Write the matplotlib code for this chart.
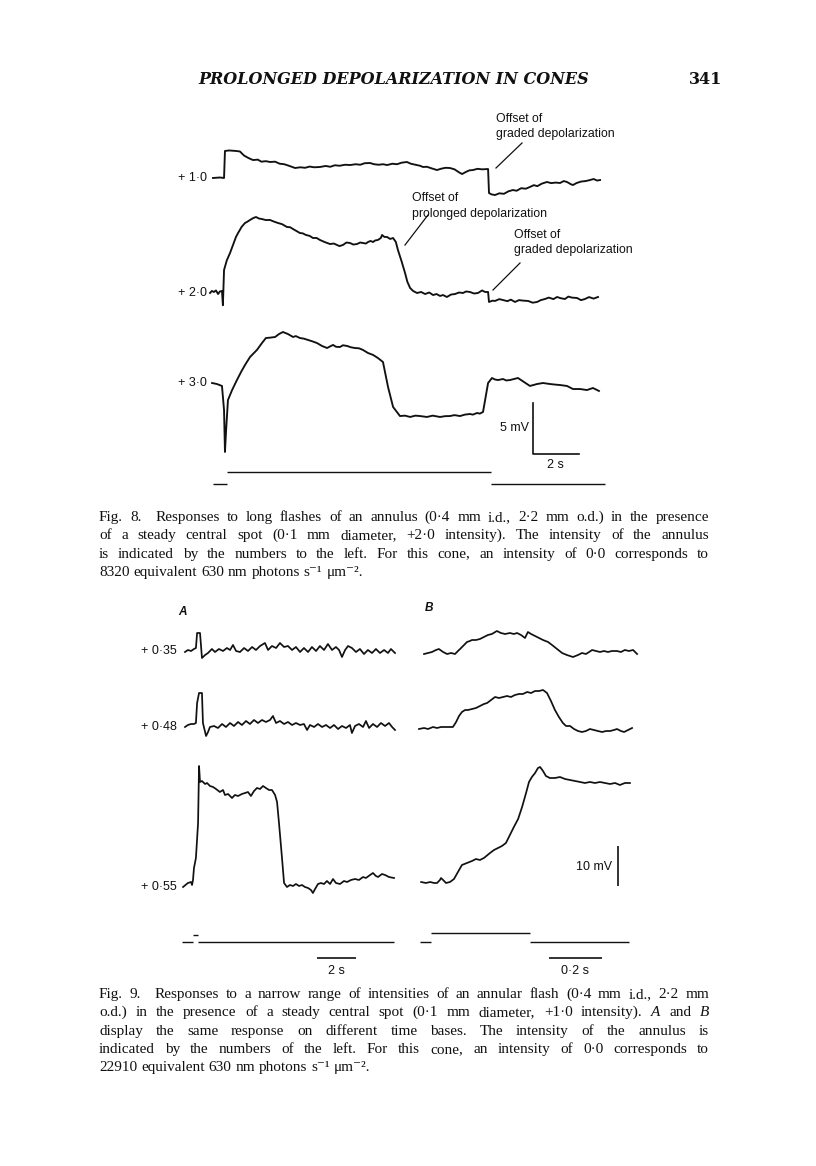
import matplotlib
matplotlib.use("Agg")
import matplotlib.pyplot as plt

# ---------------- data ----------------
# Fig. 8: responses to long annulus flashes, time in s, voltage in mV
f8_labels = ["+ 1·0", "+ 2·0", "+ 3·0"]

f8_t_10 = [0, 0.3, 0.48, 0.52, 0.7, 1.0, 1.17, 1.35, 1.55, 1.74, 1.95, 2.1, 2.3, 2.48, 2.7, 2.9,
           3.1, 3.3, 3.57, 3.8, 4.0, 4.2, 4.4, 4.65, 4.9, 5.1, 5.3, 5.5, 5.75, 5.96, 6.2, 6.4,
           6.6, 6.83, 7.0, 7.2, 7.4, 7.57, 7.8, 8.0, 8.2, 8.43, 8.6, 8.8, 9.0, 9.13, 9.3, 9.5,
           9.74, 9.9, 10.1, 10.3, 10.5, 10.7, 10.83, 11.0, 11.15, 11.3, 11.5, 11.7, 11.96, 12.0,
           12.1, 12.26, 12.45, 12.65, 12.85, 13.04, 13.2, 13.4, 13.6, 13.78, 13.95, 14.1, 14.3,
           14.52, 14.7, 14.9, 15.09, 15.25, 15.39, 15.55, 15.65, 15.8, 16.0, 16.2, 16.39, 16.55,
           16.7, 16.83]
f8_v_10 = [0, 0.05, 0, 2.65, 2.7, 2.65, 2.6, 2.2, 1.95, 1.76, 1.8, 1.6, 1.65, 1.57, 1.6, 1.4,
           1.35, 1.2, 0.98, 1.05, 1.0, 1.12, 1.05, 1.08, 1.18, 1.1, 1.25, 1.2, 1.3, 1.27, 1.35, 1.3,
           1.45, 1.47, 1.35, 1.3, 1.35, 1.27, 1.4, 1.35, 1.5, 1.57, 1.4, 1.3, 1.2, 1.08, 1.1, 0.95,
           0.78, 0.9, 1.0, 0.98, 0.85, 0.55, 0.39, 0.6, 0.75, 0.78, 0.9, 0.85, 0.88, -1.47,
           -1.6, -1.67, -1.5, -1.55, -1.3, -1.18, -1.25, -1.0, -1.05, -0.88, -0.7, -0.8, -0.55,
           -0.39, -0.5, -0.45, -0.49, -0.3, -0.39, -0.6, -0.69, -0.5, -0.35, -0.3, -0.2, -0.1,
           -0.25, -0.2]

f8_t_20 = [-0.13, -0.05, 0.04, 0.13, 0.22, 0.3, 0.39, 0.43, 0.48, 0.6, 0.74, 0.87, 1.0, 1.09,
           1.25, 1.39, 1.5, 1.61, 1.75, 1.87, 2.0, 2.13, 2.3, 2.48, 2.65, 2.83, 3.0, 3.22, 3.35,
           3.48, 3.65, 3.78, 3.9, 4.04, 4.2, 4.35, 4.5, 4.65, 4.85, 5.09, 5.25, 5.39, 5.5, 5.65,
           5.8, 5.96, 6.1, 6.26, 6.4, 6.52, 6.65, 6.74, 6.85, 6.96, 7.05, 7.17, 7.3, 7.35, 7.45,
           7.57, 7.7, 7.83, 7.95, 8.04, 8.2, 8.35, 8.45, 8.57, 8.7, 8.87, 9.05, 9.22, 9.4, 9.57,
           9.72, 9.87, 10.0, 10.17, 10.35, 10.52, 10.7, 10.87, 11.0, 11.17, 11.35, 11.52, 11.7,
           11.83, 11.96, 12.0, 12.15, 12.26, 12.45, 12.61, 12.8, 12.95, 13.13, 13.3, 13.5, 13.7,
           13.9, 14.09, 14.25, 14.43, 14.6, 14.8, 14.96, 15.1, 15.3, 15.45, 15.6, 15.83, 16.0,
           16.17, 16.35, 16.55, 16.74]
f8_v_20 = [0.0, 0.2, 0.1, 0.25, -0.1, 0.15, 0.2, -1.2, 2.25, 3.2, 3.92, 4.71, 5.5, 5.88,
           6.5, 6.86, 7.0, 7.16, 7.35, 7.45, 7.3, 7.25, 7.15, 7.16, 7.0, 6.86, 6.75, 6.47, 6.45,
           6.27, 6.05, 5.88, 5.85, 5.69, 5.6, 5.39, 5.4, 5.2, 5.0, 4.8, 4.85, 4.71, 4.6, 4.71,
           4.95, 4.9, 4.75, 4.8, 4.95, 4.9, 4.85, 5.0, 5.1, 5.0, 5.15, 5.2, 5.4, 5.69, 5.5,
           5.49, 5.3, 5.39, 5.0, 4.22, 3.1, 1.96, 1.1, 0.49, 0.2, 0.0, 0.1, -0.1, 0.05, -0.2,
           -0.1, -0.29, -0.2, -0.39, -0.15, -0.1, 0.05, 0.0, 0.15, 0.1, -0.05, 0.0, 0.25,
           0.1, 0.1, -0.88, -0.75, -0.78, -0.6, -0.69, -0.8, -0.65, -0.88, -0.7, -0.75, -0.78,
           -0.95, -0.88, -0.7, -0.59, -0.45, -0.6, -0.39, -0.5, -0.59, -0.35, -0.45, -0.49, -0.7,
           -0.59, -0.4, -0.55, -0.39]

f8_t_30 = [-0.04, 0.17, 0.39, 0.48, 0.52, 0.57, 0.65, 0.83, 1.04, 1.22, 1.39, 1.61, 1.91, 2.13,
           2.3, 2.5, 2.7, 2.87, 3.04, 3.26, 3.48, 3.6, 3.78, 3.95, 4.13, 4.3, 4.52, 4.74, 4.96,
           5.1, 5.22, 5.35, 5.52, 5.65, 5.83, 6.0, 6.17, 6.35, 6.52, 6.74, 6.96, 7.17, 7.39,
           7.61, 7.83, 8.13, 8.35, 8.57, 8.8, 9.0, 9.3, 9.55, 9.87, 10.1, 10.3, 10.5, 10.74, 10.95,
           11.17, 11.3, 11.48, 11.6, 11.74, 11.96, 12.13, 12.25, 12.39, 12.61, 12.75, 12.91, 13.1,
           13.26, 13.52, 13.78, 14.09, 14.35, 14.65, 14.85, 15.09, 15.39, 15.65, 15.96, 16.26,
           16.52, 16.78]
f8_v_30 = [0, -0.1, -0.29, -2.65, -6.76, -4.61, -1.67, -0.69, 0.29, 1.08, 1.76, 2.55, 3.24, 3.92,
           4.41, 4.45, 4.51, 4.8, 5.0, 4.8, 4.51, 4.6, 4.41, 4.35, 4.22, 4.1, 3.92, 3.63, 3.43,
           3.6, 3.73, 3.55, 3.53, 3.7, 3.63, 3.5, 3.43, 3.4, 3.24, 2.94, 2.75, 2.45, 2.06,
           -0.39, -2.35, -3.24, -3.2, -3.33, -3.2, -3.24, -3.33, -3.2, -3.33, -3.25, -3.24, -3.15,
           -3.24, -3.1, -3.04, -3.1, -2.94, -3.0, -2.84, 0, 0.49, 0.35, 0.29, 0.39, 0.25, 0.29, 0.4,
           0.49, 0.1, -0.29, -0.1, 0, -0.1, -0.15, -0.2, -0.29, -0.59, -0.59, -0.69, -0.49, -0.78]

f8_flash_on, f8_flash_off, f8_sweep = 0.61, 12.09, (0.0, 17.04)

# Fig. 9 A (slow time base) and B (fast time base)
f9_labels = ["+ 0·35", "+ 0·48", "+ 0·55"]

a_t_35 = [0, 0.15, 0.31, 0.46, 0.56, 0.62, 0.77, 0.87, 1.03, 1.18, 1.38, 1.54, 1.74, 1.95, 2.15,
          2.31, 2.46, 2.62, 2.82, 3.03, 3.23, 3.44, 3.64, 3.85, 4.10, 4.26, 4.46, 4.67, 4.87, 5.08,
          5.28, 5.49, 5.69, 5.90, 6.10, 6.31, 6.51, 6.72, 6.92, 7.13, 7.33, 7.54, 7.74, 7.90, 8.05,
          8.21, 8.36, 8.56, 8.77, 8.97, 9.18, 9.38, 9.59, 9.79, 10.0, 10.21, 10.41, 10.56, 10.77]
a_v_35 = [-0.25, 0.25, 0, 0.5, 0.75, 4.5, 4.5, -1.75, -1.0, -0.5, 0.5, -0.25, 0.5, 0, 0.75,
          0.25, 1.5, 0, -0.25, 0.75, 0, 1.0, 0.25, 1.25, 2.0, 0.25, 1.25, 0.75, 2.0, 1.0,
          1.25, 0.25, 1.0, -0.25, 0.75, -0.25, 1.0, 0, 1.25, 0.25, 1.75, 0.25, 1.0, 0.25, -1.5,
          0.25, 1.25, 0.75, -0.25, 0.5, -0.75, 0.25, -0.5, 0.5, -0.5, 0.25, -0.5, 0.5, -0.5]

a_t_48 = [0, 0.15, 0.31, 0.46, 0.56, 0.62, 0.72, 0.87, 0.92, 1.08, 1.18, 1.28, 1.49, 1.69, 1.90,
          2.10, 2.31, 2.51, 2.72, 2.92, 3.13, 3.33, 3.54, 3.74, 3.95, 4.15, 4.36, 4.51, 4.67, 4.87,
          5.08, 5.28, 5.49, 5.69, 5.90, 6.10, 6.26, 6.41, 6.62, 6.82, 7.03, 7.23, 7.44, 7.64, 7.85,
          8.05, 8.26, 8.46, 8.56, 8.72, 8.92, 9.13, 9.28, 9.44, 9.64, 9.85, 10.05, 10.26, 10.46,
          10.62, 10.77]
a_v_48 = [0, 0.5, 0.75, 0.75, 1.0, 6.0, 8.5, 8.5, 1.0, -2.25, -1.25, 0, 0.25, -0.25, 0.75,
          0, 1.0, 0.25, 1.25, 0.5, 1.5, 0.75, 1.75, 1.0, 1.75, 1.25, 1.75, 2.75, 1.0, 1.5,
          0.75, 1.25, 0.5, 1.0, 0.5, 0.75, -0.75, 0.5, 0, 0.75, 0, 0.5, -0.25, 0.5, -0.5,
          0.25, -0.25, 0.5, -1.5, 0.25, 0.75, 0, 1.5, -0.25, 0.75, 0, 1.0, 0.25, 1.0,
          0, -0.75]

a_t_55 = [-0.10, 0.15, 0.31, 0.36, 0.41, 0.46, 0.56, 0.67, 0.72, 0.77, 0.87, 1.03, 1.13, 1.28,
          1.44, 1.59, 1.79, 1.95, 2.05, 2.21, 2.41, 2.56, 2.72, 2.92, 3.08, 3.23, 3.38, 3.54, 3.69,
          3.85, 4.0, 4.15, 4.31, 4.46, 4.62, 4.72, 4.82, 4.97, 5.08, 5.23, 5.38, 5.54, 5.69, 5.85,
          6.0, 6.15, 6.31, 6.46, 6.56, 6.67, 6.82, 6.97, 7.13, 7.28, 7.44, 7.59, 7.74, 7.95, 8.15,
          8.31, 8.51, 8.72, 8.92, 9.13, 9.28, 9.49, 9.64, 9.79, 9.90, 10.10, 10.26, 10.46, 10.72]
a_v_55 = [0, 1.0, 1.25, 0.5, 1.75, 4.75, 7.25, 16.0, 30.25, 26.25, 26.5, 25.75, 26.0, 25.25,
          25.0, 24.5, 23.75, 24.25, 23.0, 23.25, 22.25, 23.0, 22.75, 23.25, 23.5, 23.75, 22.75, 24.0,
          24.75, 24.5, 25.25, 24.75, 24.25, 24.25, 23.0, 21.25, 16.0, 7.5, 1.0, 0, 0.5, 0.25, 0.75,
          0.25, 0.5, 0, -0.25, -0.75, -1.5, -0.5, 0.75, 1.0, 0.75, 1.5, 0.75, 2.0, 1.0, 0.75, 1.5,
          1.25, 1.75, 2.0, 1.75, 2.5, 2.25, 3.0, 3.5, 2.75, 2.5, 3.25, 3.0, 2.5, 2.25]

b_t_35 = [0.019, 0.034, 0.049, 0.064, 0.075, 0.091, 0.106, 0.121, 0.136, 0.147, 0.155, 0.170,
          0.181, 0.192, 0.200, 0.215, 0.230, 0.245, 0.260, 0.275, 0.294, 0.309, 0.325, 0.343,
          0.358, 0.370, 0.385, 0.400, 0.411, 0.423, 0.438, 0.453, 0.468, 0.487, 0.502, 0.521,
          0.540, 0.558, 0.581, 0.600, 0.615, 0.630, 0.642, 0.653, 0.668, 0.683, 0.698, 0.713,
          0.728, 0.747, 0.762, 0.777, 0.792, 0.808, 0.823]
b_v_35 = [0, 0.25, 0.5, 1.0, 1.25, 0.5, 0, 0.25, 0, 0.75, 1.25, 2.25,
          3.0, 3.25, 3.5, 3.5, 3.75, 4.25, 4.75, 5.0, 5.75, 5.25, 5.0, 5.25,
          5.0, 5.25, 4.75, 4.0, 5.5, 5.0, 4.5, 4.0, 3.5, 3.0, 2.25, 1.25,
          0.25, -0.25, -0.75, -0.25, 0.25, 0, 0.5, 1.0, 0.75, 0.5, 0.75, 0.5,
          0.75, 0.75, 0.5, 1.0, 0.75, 1.0, 0]

b_t_48 = [0, 0.019, 0.034, 0.053, 0.068, 0.083, 0.098, 0.113, 0.128, 0.140, 0.151, 0.162, 0.174,
          0.185, 0.200, 0.215, 0.230, 0.245, 0.257, 0.272, 0.287, 0.302, 0.317, 0.332, 0.347,
          0.362, 0.377, 0.392, 0.408, 0.423, 0.438, 0.453, 0.468, 0.483, 0.498, 0.513, 0.528,
          0.543, 0.555, 0.570, 0.585, 0.600, 0.615, 0.630, 0.645, 0.660, 0.675, 0.691, 0.706,
          0.721, 0.736, 0.747, 0.762, 0.774, 0.789, 0.804]
b_v_48 = [0, 0.25, 0, 0.5, 0.25, 0.5, 0.5, 0.5, 0.5, 1.75, 3.25, 4.25, 4.75,
          4.75, 5.0, 5.25, 5.75, 6.25, 6.5, 7.25, 8.0, 7.75, 8.0, 8.25, 8.0,
          8.5, 8.75, 8.75, 9.25, 9.0, 9.5, 9.5, 9.75, 9.0, 7.0, 4.75, 3.0,
          1.5, 0.75, 0.75, 0, -0.5, -0.75, -0.5, 0, -0.25, -0.5, -0.75, -0.5,
          -0.5, -0.25, 0, -0.5, -0.75, -0.25, 0.25]

b_t_55 = [0.008, 0.026, 0.042, 0.057, 0.068, 0.079, 0.083, 0.091, 0.102, 0.117, 0.132, 0.147,
          0.162, 0.181, 0.200, 0.215, 0.230, 0.245, 0.268, 0.283, 0.298, 0.313, 0.328, 0.343,
          0.358, 0.374, 0.389, 0.404, 0.415, 0.426, 0.438, 0.449, 0.457, 0.468, 0.479, 0.494,
          0.513, 0.532, 0.551, 0.570, 0.589, 0.608, 0.626, 0.645, 0.664, 0.683, 0.702, 0.721,
          0.740, 0.758, 0.777, 0.796]
b_v_55 = [0, -0.25, 0, -0.25, -0.25, 0.5, 1.0, 0.5, -0.25, 0, 0.75, 2.5,
          4.25, 4.75, 5.25, 5.75, 5.5, 6.0, 7.25, 8.0, 8.5, 9.0, 9.75, 11.75,
          13.75, 15.75, 18.75, 22.25, 25.0, 26.25, 27.25, 28.5, 28.75, 27.75, 26.5, 26.0,
          26.0, 26.25, 25.75, 25.5, 25.25, 25.0, 24.75, 25.0, 24.75, 25.0, 24.75, 24.5,
          24.75, 24.25, 24.75, 24.75]

a_flash_on, a_flash_off, a_sweep = 0.41, 0.67, (-0.15, 10.72)
b_flash_on, b_flash_off, b_sweep = 0.045, 0.419, (0.004, 0.792)

cap8 = ["Fig. 8.  Responses to long flashes of an annulus (0·4 mm i.d., 2·2 mm o.d.) in the presence",
        "of a steady central spot (0·1 mm diameter, +2·0 intensity). The intensity of the annulus",
        "is indicated by the numbers to the left. For this cone, an intensity of 0·0 corresponds to",
        "8320 equivalent 630 nm photons s⁻¹ μm⁻²."]
cap9 = ["Fig. 9.  Responses to a narrow range of intensities of an annular flash (0·4 mm i.d., 2·2 mm",
        "o.d.) in the presence of a steady central spot (0·1 mm diameter, +1·0 intensity). A and B",
        "display the same response on different time bases. The intensity of the annulus is",
        "indicated by the numbers of the left. For this cone, an intensity of 0·0 corresponds to",
        "22910 equivalent 630 nm photons s⁻¹ μm⁻²."]

# ---------------- page ----------------
W, H = 816, 1166
SANS = ["Liberation Sans", "DejaVu Sans"]
SERIF = ["DejaVu Serif"]
CAPF = ["Liberation Serif", "DejaVu Serif"]
INK = "#111111"

fig = plt.figure(figsize=(W / 100, H / 100), dpi=100)
fig.patch.set_facecolor("white")
page = fig.add_axes([0, 0, 1, 1])
page.set_xlim(0, W)
page.set_ylim(H, 0)
page.axis("off")
renderer = fig.canvas.get_renderer()


def panel(x0, sx, sy):
    # overlay axes in (seconds, mV): x0 = page x of t=0, sx px/s, sy px/mV
    ax = fig.add_axes([0, 0, 1, 1])
    ax.set_xlim(-x0 / sx, (W - x0) / sx)
    ax.set_ylim(-H / sy, 0)
    ax.axis("off")
    ax.patch.set_visible(False)
    return ax, sy


def trace(p, t, v, base, lw=1.35):
    ax, sy = p
    ax.plot(t, [x - base / sy for x in v], color=INK, lw=lw, solid_joinstyle="round")


def stimulus(p, on, off, sweep, base, up):
    ax, sy = p
    y0, y1 = -base / sy, -(base - up) / sy
    ax.hlines(y0, sweep[0], on, color=INK, lw=1.0)
    ax.hlines(y1, on, off, color=INK, lw=1.0)
    ax.hlines(y0, off, sweep[1], color=INK, lw=1.0)


def justify(lines, x0, x1, y0, dy, size, italic_words=()):
    # word-by-word placement so every full line spans x0..x1 like the printed page
    for i, line in enumerate(lines):
        y = y0 + i * dy
        words = line.split(" ")  # a double space keeps an empty word -> wider gap
        ts = []
        for w in words:
            st = "italic" if w in italic_words else "normal"
            ts.append(page.text(0, y, w, family=CAPF, fontsize=size, style=st,
                                va="baseline", ha="left", color=INK))
        widths = [t.get_window_extent(renderer).width if w else 0 for t, w in zip(ts, words)]
        if i == len(lines) - 1:
            gap = 4.0
        else:
            gap = (x1 - x0 - sum(widths)) / (len(words) - 1)
        x = x0
        for t, wd in zip(ts, widths):
            t.set_x(x)
            x += wd + gap


# header
hdr = page.text(198, 84, "PROLONGED DEPOLARIZATION IN CONES", family=SERIF, style="italic",
                fontweight="bold", fontsize=12, va="baseline", ha="left", color=INK)
hw = hdr.get_window_extent(renderer).width
hdr.set_fontsize(12 * 389 / hw)
page.text(722, 84, "341", family=SERIF, fontweight="bold", fontsize=11.5, va="baseline",
          ha="right", color=INK)

# ---------------- Fig. 8 ----------------
p8 = panel(213, 23.0, 10.2)
bases8 = [178, 293, 383]
for lab, t, v, b in zip(f8_labels, [f8_t_10, f8_t_20, f8_t_30], [f8_v_10, f8_v_20, f8_v_30], bases8):
    trace(p8, t, v, b)
    page.text(207, b, lab, family=SANS, fontsize=9, ha="right", va="center", color=INK)
stimulus(p8, f8_flash_on, f8_flash_off, f8_sweep, 484, 12)

# scale bars 5 mV / 2 s
ax8, sy8 = p8
ax8.plot([13.91, 13.91, 15.91], [-(454 / sy8) + 5, -454 / sy8, -454 / sy8], color=INK, lw=1.2)
page.text(529, 428, "5 mV", family=SANS, fontsize=9, ha="right", va="center", color=INK)
page.text(555, 465, "2 s", family=SANS, fontsize=9, ha="center", va="center", color=INK)

# annotations
notes = [((496, 119), (496, 168), (522, 143), "graded depolarization"),
         ((412, 198), (405, 245), (428, 215), "prolonged depolarization"),
         ((514, 235), (493, 290), (520, 263), "graded depolarization")]
for (nx, ny), a, b, second in notes:
    page.text(nx, ny, "Offset of", family=SANS, fontsize=8.8, ha="left", va="center", color=INK)
    page.text(nx, ny + 15.5, second, family=SANS, fontsize=8.8, ha="left", va="center", color=INK)
    page.plot([a[0], b[0]], [a[1], b[1]], color=INK, lw=0.9)

justify(cap8, 99, 709, 521, 18.3, 11.0)

# ---------------- Fig. 9 ----------------
pA = panel(185, 19.5, 4.0)
pB = panel(419, 265.0, 4.0)
basesA = [651, 727, 887]
basesB = [654, 729, 882]
for lab, t, v, b in zip(f9_labels, [a_t_35, a_t_48, a_t_55], [a_v_35, a_v_48, a_v_55], basesA):
    trace(pA, t, v, b, lw=1.25)
    page.text(177, b, lab, family=SANS, fontsize=9, ha="right", va="center", color=INK)
for t, v, b in zip([b_t_35, b_t_48, b_t_55], [b_v_35, b_v_48, b_v_55], basesB):
    trace(pB, t, v, b, lw=1.25)

stimulus(pA, a_flash_on, a_flash_off, a_sweep, 942, 7)
stimulus(pB, b_flash_on, b_flash_off, b_sweep, 942, 9)

page.text(182, 612, "A", family=SANS, fontweight="bold", style="italic", fontsize=8.5,
          ha="center", va="center", color=INK)
page.text(429, 608, "B", family=SANS, fontweight="bold", style="italic", fontsize=8.5,
          ha="center", va="center", color=INK)

axA, syA = pA
axA.hlines(-958 / syA, 6.77, 8.77, color=INK, lw=1.2)
page.text(336, 971, "2 s", family=SANS, fontsize=9, ha="center", va="center", color=INK)
axB, syB = pB
axB.hlines(-958 / syB, 0.49, 0.69, color=INK, lw=1.2)
axB.vlines(0.751, -886 / syB, -886 / syB + 10, color=INK, lw=1.2)
page.text(575, 971, "0·2 s", family=SANS, fontsize=9, ha="center", va="center", color=INK)
page.text(612, 867, "10 mV", family=SANS, fontsize=9, ha="right", va="center", color=INK)

justify(cap9, 99, 709, 998, 18.3, 11.0, italic_words=("A", "B"))

fig.savefig("out.png", dpi=100, facecolor="white")
